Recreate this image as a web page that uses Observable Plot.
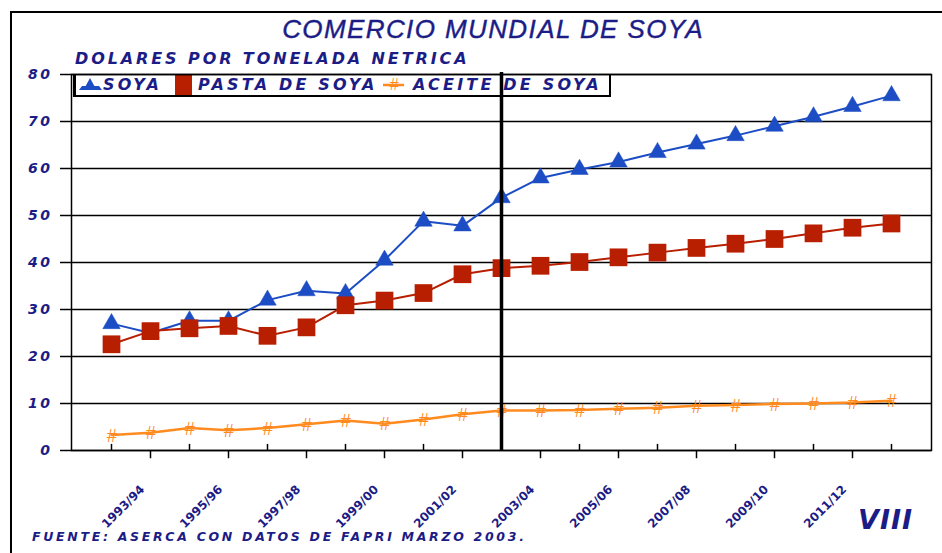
<!DOCTYPE html>
<html>
<head>
<meta charset="utf-8">
<script src="https://cdn.jsdelivr.net/npm/d3@7"></script>
<script src="https://cdn.jsdelivr.net/npm/@observablehq/plot@0.6"></script>
<style>
  html, body { margin: 0; padding: 0; background: #fff; }
  #wrap { position: relative; width: 942px; height: 553px; overflow: hidden; background: #fff;
          font-family: "Liberation Sans", Arial, sans-serif; color: #1c1c86; }
  #border { position: absolute; left: 10px; top: 11px; width: 1000px; height: 600px;
            border-left: 2.5px solid #000; border-top: 2.5px solid #000; }
  #title { position: absolute; left: 493px; top: 14px; transform: translateX(-50%); white-space: nowrap;
           font-style: italic; font-size: 26px; letter-spacing: 1.4px; color: #1c1c86; -webkit-text-stroke: 0.4px #1c1c86; }
  .wide { font-family: "DejaVu Sans", sans-serif; font-style: oblique; font-weight: bold; color: #1c1c86; white-space: nowrap; }
  #subtitle { position: absolute; left: 75px; top: 49px; font-size: 16px; letter-spacing: 2.9px; }
  #legend { position: absolute; left: 73px; top: 74px; width: 533px; height: 21px;
            border: 2px solid #000; border-top-width: 0; border-left-width: 3px; background: #fff; }
  #legend .lbl { position: absolute; top: 2px; font-size: 16px; letter-spacing: 3.2px; line-height: 18px; }
  #legend svg { position: absolute; top: 0; }
  #footer { position: absolute; left: 32px; top: 529px; font-size: 12.5px; letter-spacing: 2.7px; }
  #num { position: absolute; left: 858px; top: 504px; font-size: 27px; letter-spacing: 1px; }
  #chart { position: absolute; left: 0; top: 0; }
  #chart svg { background: transparent !important; }
  #chart [aria-label="y-axis tick label"] { fill: #1c1c86; font-family: "DejaVu Sans", sans-serif; font-weight: bold; font-style: oblique; letter-spacing: 2.5px; }
</style>
</head>
<body>
<div id="wrap">
  <div id="border"></div>
  <div id="title">COMERCIO MUNDIAL DE SOYA</div>
  <div id="subtitle" class="wide">DOLARES POR TONELADA NETRICA</div>
  <div id="legend"></div>
  <div id="chart"></div>
  <div id="footer" class="wide">FUENTE: ASERCA CON DATOS DE FAPRI MARZO 2003.</div>
  <div id="num" class="wide">VIII</div>
</div>
<script>
const years = ["1993/94","1994/95","1995/96","1996/97","1997/98","1998/99","1999/00","2000/01","2001/02","2002/03",
               "2003/04","2004/05","2005/06","2006/07","2007/08","2008/09","2009/10","2010/11","2011/12","2012/13","2013/14"];
const soya   = [27, 25, 27.6, 27.6, 32, 34, 33.4, 40.5, 48.8, 47.8, 53.8, 58, 59.8, 61.4, 63.4, 65.2, 67, 69, 71, 73.2, 75.5];
const pasta  = [22.6, 25.4, 26, 26.5, 24.4, 26.2, 30.9, 31.9, 33.5, 37.5, 38.8, 39.3, 40.1, 41.1, 42.1, 43.1, 44, 45, 46.2, 47.4, 48.3];
const aceite = [3.3, 3.8, 4.8, 4.3, 4.8, 5.6, 6.4, 5.7, 6.6, 7.7, 8.5, 8.5, 8.6, 8.9, 9.1, 9.5, 9.7, 9.9, 10, 10.2, 10.6];
const xLabels = ["1993/94","1995/96","1997/98","1999/00","2001/02","2003/04","2005/06","2007/08","2009/10","2011/12"];
const yTicks = [0, 10, 20, 30, 40, 50, 60, 70, 80];
const seriesNames = ["SOYA", "PASTA DE SOYA", "ACEITE DE SOYA"];
const divider = "2003/04";

const BLUE = "#1c4dc4", RED = "#b81e00", ORANGE = "#ff8a1e", NAVY = "#1c1c86";

const rows = (vals) => years.map((y, i) => ({year: y, value: vals[i]}));
const soyaRows = rows(soya), pastaRows = rows(pasta), aceiteRows = rows(aceite);
const upTicks = years.filter((d, i) => i % 2 === 0);
const downTicks = years.filter((d, i) => i % 2 === 1);

const chart = Plot.plot({
  width: 942,
  height: 553,
  marginLeft: 71,
  marginRight: 11,
  marginTop: 74,
  marginBottom: 103,
  style: {background: "transparent", fontFamily: "Liberation Sans, Arial, sans-serif"},
  x: {type: "point", domain: years, padding: 1, axis: null, label: null},
  y: {domain: [0, 80], axis: null, label: null},
  marks: [
    Plot.ruleY(yTicks, {stroke: "#000", strokeWidth: 1.5}),
    Plot.axisY(yTicks, {tickSize: 11, tickPadding: 8, fontSize: 14, stroke: "#000", strokeWidth: 1.5, label: null}),
    Plot.frame({stroke: "#000", strokeWidth: 1.5}),
    // x tick marks: short inside at even categories, long outside at odd categories
    Plot.ruleX(upTicks, {x: d => d, y1: 0, y2: 1.3, stroke: "#000", strokeWidth: 1.5}),
    Plot.ruleX(downTicks, {x: d => d, y1: 0, y2: -1.75, stroke: "#000", strokeWidth: 1.5}),
    Plot.line(soyaRows, {x: "year", y: "value", stroke: BLUE, strokeWidth: 2}),
    Plot.line(pastaRows, {x: "year", y: "value", stroke: RED, strokeWidth: 2}),
    Plot.line(aceiteRows, {x: "year", y: "value", stroke: ORANGE, strokeWidth: 2.5}),
    Plot.dot(soyaRows, {x: "year", y: "value", symbol: "triangle", fill: BLUE, r: 6.5, stroke: BLUE, strokeWidth: 0.5}),
    Plot.dot(pastaRows, {x: "year", y: "value", symbol: "square", fill: RED, r: 10}),
    Plot.text(aceiteRows, {x: "year", y: "value", text: () => "#", fill: ORANGE, fontSize: 18, fontStyle: "italic", dy: 1}),
    Plot.ruleX([divider], {stroke: "#000", strokeWidth: 3.5, y1: 0, y2: 80.4}),
    Plot.text(xLabels, {x: d => d, y: 0, text: d => d, rotate: -45, textAnchor: "end",
      dx: 31, dy: 37, fill: NAVY, fontSize: 12, fontWeight: "bold", fontFamily: "DejaVu Sans, sans-serif"})
  ]
});
document.getElementById("chart").appendChild(chart);

// legend (HTML, placed under the chart svg so the divider line crosses it)
const legend = document.getElementById("legend");
const symbols = [
  `<svg width="26" height="21" style="left:2px"><path d="M6 15 L12 4 L18 15 Z" fill="${BLUE}"/><path d="M1 16 L24 16 L21 12 L4 12Z" fill="${BLUE}"/></svg>`,
  `<svg width="18" height="21" style="left:99px"><rect x="0" y="0" width="17" height="21" fill="${RED}"/></svg>`,
  `<svg width="24" height="21" style="left:306px"><line x1="1" y1="11" x2="22" y2="11" stroke="${ORANGE}" stroke-width="2.5"/><text x="12" y="16" text-anchor="middle" font-size="16" font-style="italic" fill="${ORANGE}">#</text></svg>`
];
const labelLeft = [27, 122, 337];
legend.innerHTML = symbols.join("") + seriesNames.map((n, i) =>
  `<span class="lbl wide" style="left:${labelLeft[i]}px">${n}</span>`).join("");
</script>
</body>
</html>
